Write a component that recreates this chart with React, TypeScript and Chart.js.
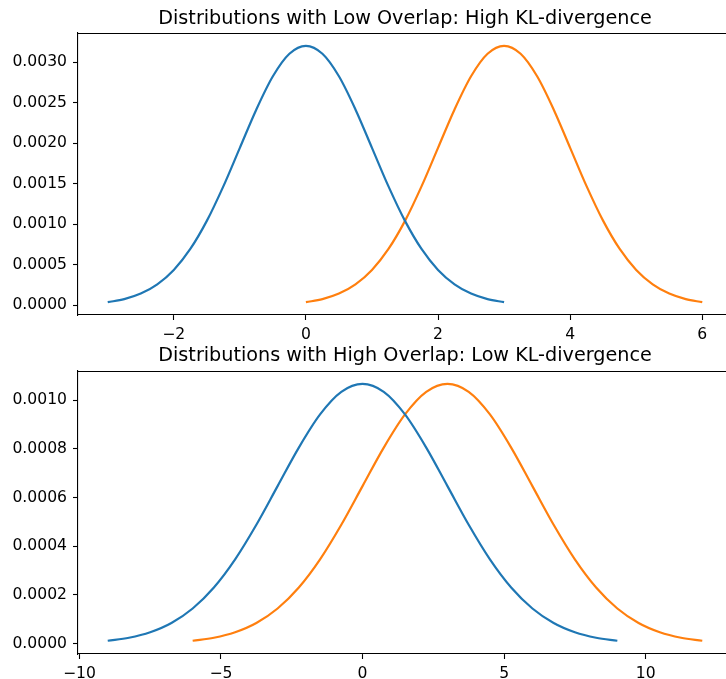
import React, { useEffect, useRef } from "react";
import { Chart, registerables } from "chart.js";

Chart.register(...registerables);

// ---------- data ----------
const TOP_TITLE = "Distributions with Low Overlap: High KL-divergence";
const BOTTOM_TITLE = "Distributions with High Overlap: Low KL-divergence";

const TOP_X_BLUE = [-3, -2.75, -2.5, -2.25, -2, -1.75, -1.5, -1.25, -1, -0.75, -0.5, -0.25, 0, 0.25, 0.5, 0.75, 1, 1.25, 1.5, 1.75, 2, 2.25, 2.5, 2.75, 3];
const TOP_X_ORANGE = [0, 0.25, 0.5, 0.75, 1, 1.25, 1.5, 1.75, 2, 2.25, 2.5, 2.75, 3, 3.25, 3.5, 3.75, 4, 4.25, 4.5, 4.75, 5, 5.25, 5.5, 5.75, 6];
const TOP_Y = [0.0000355, 0.0000729, 0.000141, 0.000255, 0.000433, 0.000692, 0.001039, 0.001465, 0.001941, 0.002415, 0.002824, 0.003102, 0.0032, 0.003102, 0.002824, 0.002415, 0.001941, 0.001465, 0.001039, 0.000692, 0.000433, 0.000255, 0.000141, 0.0000729, 0.0000355];

const BOTTOM_X_BLUE = [-9, -8.25, -7.5, -6.75, -6, -5.25, -4.5, -3.75, -3, -2.25, -1.5, -0.75, 0, 0.75, 1.5, 2.25, 3, 3.75, 4.5, 5.25, 6, 6.75, 7.5, 8.25, 9];
const BOTTOM_X_ORANGE = [-6, -5.25, -4.5, -3.75, -3, -2.25, -1.5, -0.75, 0, 0.75, 1.5, 2.25, 3, 3.75, 4.5, 5.25, 6, 6.75, 7.5, 8.25, 9, 9.75, 10.5, 11.25, 12];
const BOTTOM_Y = [0.0000118, 0.0000243, 0.0000469, 0.0000849, 0.0001444, 0.0002307, 0.0003463, 0.0004884, 0.000647, 0.0008052, 0.0009413, 0.0010339, 0.0010667, 0.0010339, 0.0009413, 0.0008052, 0.000647, 0.0004884, 0.0003463, 0.0002307, 0.0001444, 0.0000849, 0.0000469, 0.0000243, 0.0000118];

const TOP_X_TICKS = [-2, 0, 2, 4, 6];
const TOP_Y_TICKS = [0, 0.0005, 0.001, 0.0015, 0.002, 0.0025, 0.003];
const BOTTOM_X_TICKS = [-10, -5, 0, 5, 10];
const BOTTOM_Y_TICKS = [0, 0.0002, 0.0004, 0.0006, 0.0008, 0.001];

const TOP_X_RANGE = [-3.45, 6.45];
const TOP_Y_RANGE = [-0.000123, 0.003358];
const BOTTOM_X_RANGE = [-10.05, 13.05];
const BOTTOM_Y_RANGE = [-0.0000425, 0.0011196];

const BLUE = "#1f77b4";
const ORANGE = "#ff7f0e";
const FONT = "DejaVu Sans";

const zip = (xs: number[], ys: number[]) => xs.map((x, i) => ({ x, y: ys[i] }));

const fmtX = (v: number) => (v < 0 ? "\u2212" + Math.abs(v) : String(v));

const frame = {
  id: "frame",
  afterDraw(chart: any) {
    const { ctx, chartArea: a } = chart;
    ctx.save();
    ctx.strokeStyle = "#000";
    ctx.lineWidth = 1.1;
    ctx.beginPath();
    ctx.moveTo(a.left, a.top + 0.5);
    ctx.lineTo(a.right, a.top + 0.5);
    ctx.moveTo(a.right - 0.5, a.top);
    ctx.lineTo(a.right - 0.5, a.bottom);
    ctx.stroke();
    ctx.restore();
  },
};

function makeConfig(opts: {
  title: string;
  xBlue: number[];
  xOrange: number[];
  y: number[];
  xTicks: number[];
  yTicks: number[];
  xRange: number[];
  yRange: number[];
  xHeight: number;
  titlePad: { top: number; bottom: number };
}): any {
  return {
    type: "line",
    data: {
      datasets: [
        { data: zip(opts.xBlue, opts.y), borderColor: BLUE, borderWidth: 2.2, pointRadius: 0, cubicInterpolationMode: "monotone", fill: false },
        { data: zip(opts.xOrange, opts.y), borderColor: ORANGE, borderWidth: 2.2, pointRadius: 0, cubicInterpolationMode: "monotone", fill: false },
      ],
    },
    options: {
      responsive: false,
      animation: false,
      events: [],
      layout: { padding: 0 },
      plugins: {
        legend: { display: false },
        tooltip: { enabled: false },
        title: {
          display: true,
          text: opts.title,
          fullSize: false,
          color: "#000",
          font: { family: FONT, size: 19.2, weight: "normal", lineHeight: 1.2 },
          padding: opts.titlePad,
        },
      },
      scales: {
        x: {
          type: "linear",
          min: opts.xRange[0],
          max: opts.xRange[1],
          afterBuildTicks: (s: any) => {
            s.ticks = opts.xTicks.map((v) => ({ value: v }));
          },
          afterFit: (s: any) => {
            s.height = opts.xHeight;
          },
          ticks: {
            color: "#000",
            font: { family: FONT, size: 15.6 },
            padding: 5.3,
            maxRotation: 0,
            autoSkip: false,
            callback: (v: any) => fmtX(Number(v)),
          },
          grid: { drawOnChartArea: false, drawTicks: true, tickLength: 5, color: "#000", tickWidth: 1.1 },
          border: { display: true, color: "#000", width: 1.1 },
        },
        y: {
          type: "linear",
          min: opts.yRange[0],
          max: opts.yRange[1],
          afterBuildTicks: (s: any) => {
            s.ticks = opts.yTicks.map((v) => ({ value: v }));
          },
          afterFit: (s: any) => {
            s.width = 78;
          },
          ticks: {
            color: "#000",
            font: { family: FONT, size: 15.6 },
            padding: 6,
            autoSkip: false,
            callback: (v: any) => Number(v).toFixed(4),
          },
          grid: { drawOnChartArea: false, drawTicks: true, tickLength: 5, color: "#000", tickWidth: 1.1 },
          border: { display: true, color: "#000", width: 1.1 },
        },
      },
    },
    plugins: [frame],
  };
}

export default function App() {
  const topRef = useRef<HTMLCanvasElement>(null);
  const botRef = useRef<HTMLCanvasElement>(null);

  useEffect(() => {
    const top = new Chart(
      topRef.current!,
      makeConfig({
        title: TOP_TITLE,
        xBlue: TOP_X_BLUE,
        xOrange: TOP_X_ORANGE,
        y: TOP_Y,
        xTicks: TOP_X_TICKS,
        yTicks: TOP_Y_TICKS,
        xRange: TOP_X_RANGE,
        yRange: TOP_Y_RANGE,
        xHeight: 28,
        titlePad: { top: 7.5, bottom: 2.5 },
      })
    );
    const bot = new Chart(
      botRef.current!,
      makeConfig({
        title: BOTTOM_TITLE,
        xBlue: BOTTOM_X_BLUE,
        xOrange: BOTTOM_X_ORANGE,
        y: BOTTOM_Y,
        xTicks: BOTTOM_X_TICKS,
        yTicks: BOTTOM_Y_TICKS,
        xRange: BOTTOM_X_RANGE,
        yRange: BOTTOM_Y_RANGE,
        xHeight: 25,
        titlePad: { top: 6.8, bottom: 3.2 },
      })
    );
    return () => {
      top.destroy();
      bot.destroy();
    };
  }, []);

  return (
    <div style={{ position: "fixed", left: 0, top: 0, width: 726, height: 679, overflow: "hidden", background: "#fff" }}>
      <canvas ref={topRef} width={732} height={343} style={{ position: "absolute", left: 0, top: 0, width: 732, height: 343 }} />
      <canvas ref={botRef} width={732} height={341} style={{ position: "absolute", left: 0, top: 338, width: 732, height: 341 }} />
    </div>
  );
}
